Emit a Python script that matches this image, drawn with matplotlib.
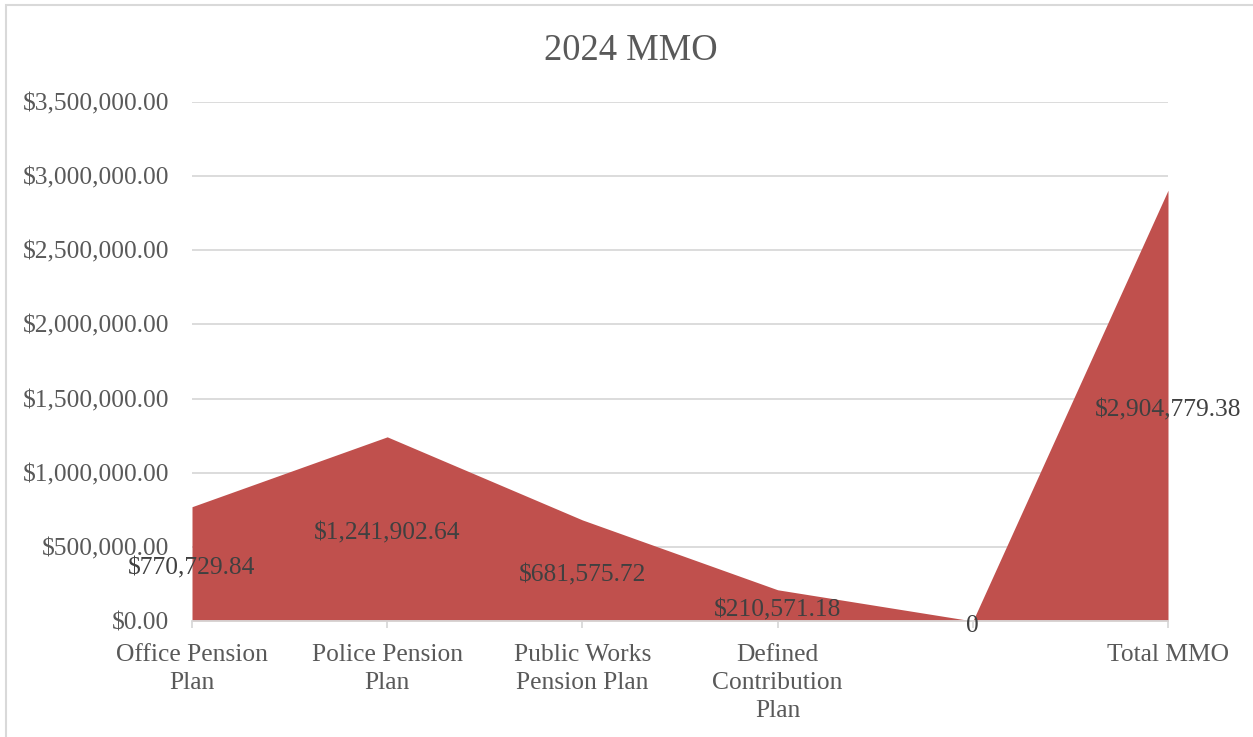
import numpy as np
import matplotlib
matplotlib.use("Agg")
import matplotlib.pyplot as plt
from matplotlib.patches import Rectangle

# chart data
categories = ["Office Pension\nPlan", "Police Pension\nPlan", "Public Works\nPension Plan",
              "Defined\nContribution\nPlan", "", "Total MMO"]
values = [770729.84, 1241902.64, 681575.72, 210571.18, 0, 2904779.38]
value_labels = ["$770,729.84", "$1,241,902.64", "$681,575.72", "$210,571.18", "0", "$2,904,779.38"]
yticks = [0, 500000, 1000000, 1500000, 2000000, 2500000, 3000000, 3500000]

plt.rcParams['font.family'] = ['Liberation Serif', 'DejaVu Serif']
FS = 18.4

W, H = 1253, 737
fig = plt.figure(figsize=(W / 100, H / 100), dpi=100)
ax = fig.add_axes([192 / W, 1 - 621 / H, (1168 - 192) / W, (621 - 102) / H])

x = np.arange(len(values))
ax.fill_between(x, values, 0, color='#C0504D', linewidth=0, zorder=2)

ax.set_xlim(0, len(values) - 1)
ax.set_ylim(0, 3500000)
ax.set_yticks(yticks)
ax.set_yticklabels(["${:,.2f}".format(v) for v in yticks])
ax.set_xticks(x)
ax.set_xticklabels(categories, va='top', linespacing=1.35)

ax.grid(axis='y', color='#D9D9D9', linewidth=1.3, zorder=0)
ax.set_axisbelow(True)
for s in ['left', 'right', 'top']:
    ax.spines[s].set_visible(False)
ax.spines['bottom'].set_color('#D9D9D9')
ax.spines['bottom'].set_linewidth(1.3)
ax.spines['bottom'].set_zorder(3)

ax.tick_params(axis='y', length=0, pad=16.5, labelsize=FS, labelcolor='#595959')
ax.tick_params(axis='x', length=5, width=1.3, color='#D9D9D9', direction='out',
               pad=11.5, labelsize=FS, labelcolor='#595959')

# data labels sit at half the area height
for xi, v, lab in zip(x, values, value_labels):
    ax.annotate(lab, (xi, v / 2), xytext=(0, -3.5), textcoords='offset points',
                ha='center', va='center', fontsize=FS, color='#404040',
                zorder=4, annotation_clip=False)

fig.text(631 / W, 1 - 51 / H, "2024 MMO", ha='center', va='center',
         fontsize=26.3, color='#595959')

# outer chart border
fig.patches.append(Rectangle((6 / W, -0.1), 1.2, 1 - 5 / H + 0.1,
                             transform=fig.transFigure, fill=False,
                             edgecolor='#D9D9D9', linewidth=1.5))

fig.savefig("out.png", dpi=100, facecolor='white')
